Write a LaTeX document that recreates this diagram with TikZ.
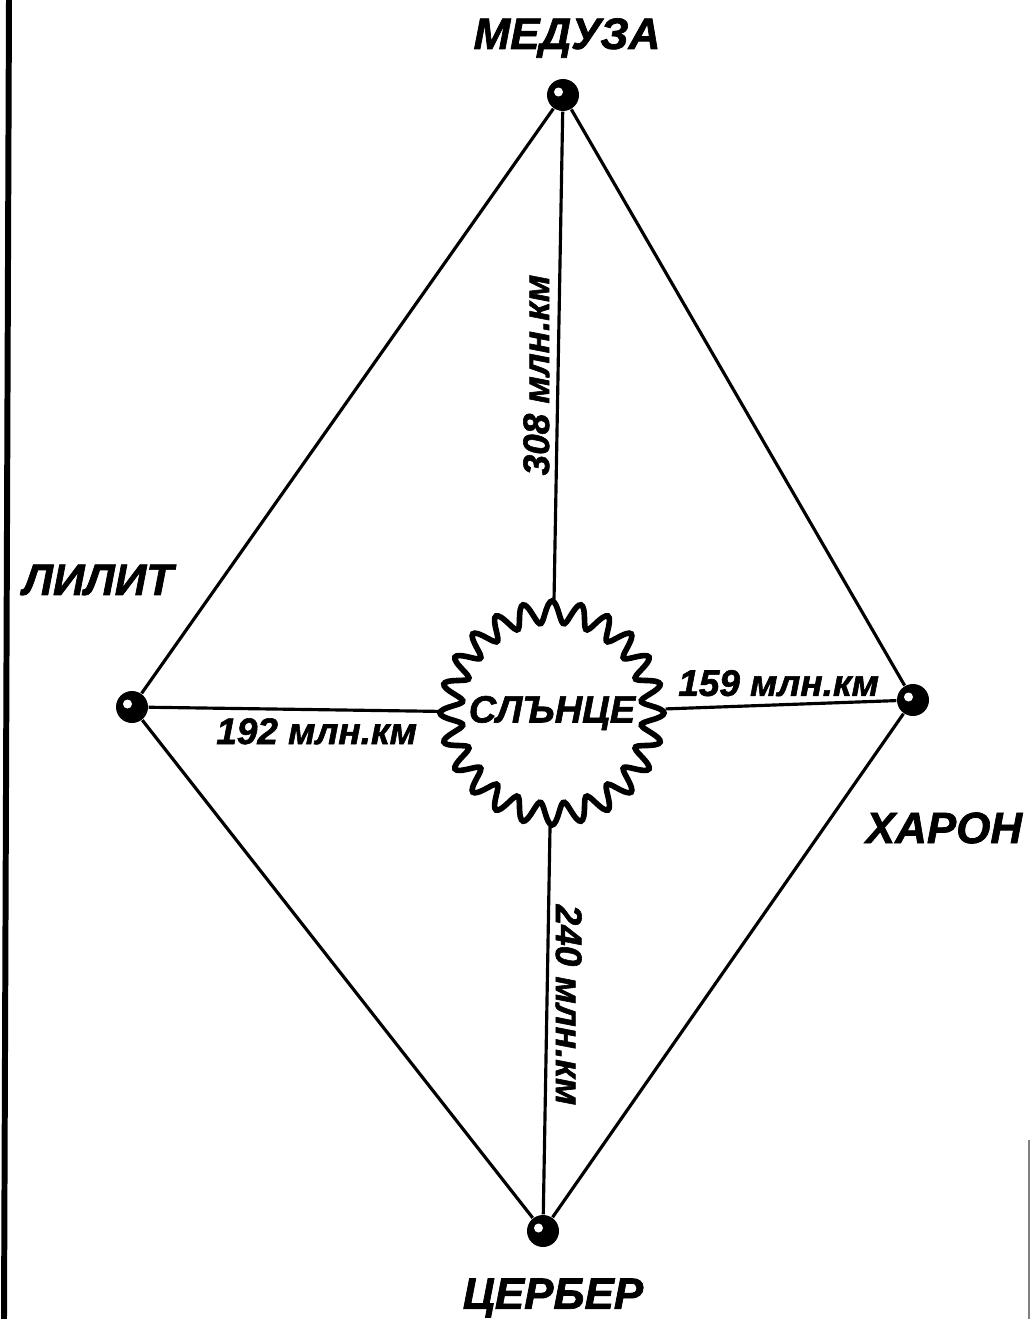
\documentclass[tikz,border=0pt]{standalone}
\usepackage{fontspec}
\setmainfont{Liberation Sans}[BoldItalicFeatures={FakeBold=1.6}]
\usetikzlibrary{positioning, calc}

\begin{document}
\begin{tikzpicture}[
    planet/.style={circle, fill=black, inner sep=0pt, minimum size=0.32cm,
      path picture={\fill[white] ([shift={(-0.045,0.03)}]path picture bounding box.center) circle (0.045);}},
    orbit/.style={line width=0.9pt},
    planetname/.style={font=\fontsize{12.5}{15}\selectfont\bfseries\itshape},
    dist/.style={font=\fontsize{10.5}{12}\selectfont\bfseries\itshape, inner sep=2pt}
]
\useasboundingbox (0,0) rectangle (10.31,-13.19);
% frame edges of the scan
\draw[line width=1.7pt] (0.09,0) -- (0.04,-13.19);
\draw[line width=0.4pt, black!50] (10.29,-11.40) -- (10.29,-13.19);

% sun
\node[circle, inner sep=0pt, minimum size=2.26cm,
      font=\fontsize{10.8}{13}\selectfont\bfseries\itshape] (sun) at (5.52,-7.13) {СЛЪНЦЕ};
\draw[line width=1.6pt, shift={(sun.center)}]
  plot[domain=0:360, samples=361, smooth cycle] (\x:{1.01+0.11*cos(24*\x)});

% planets
\node[planet] (medusa) at (5.63,-0.95) {};
\node[planet] (lilit) at (1.32,-7.07) {};
\node[planet] (haron) at (9.13,-7.00) {};
\node[planet] (cerber) at (5.43,-12.31) {};

\node[planetname] (medusaname) at (5.67,-0.38) {МЕДУЗА};
\node[planetname] (lilitname) at (0.98,-5.80) {ЛИЛИТ};
\node[planetname] (haronname) at (9.44,-8.28) {ХАРОН};
\node[planetname] (cerbername) at (5.53,-12.98) {ЦЕРБЕР};

% rhombus
\draw[orbit] (medusa) -- (lilit);
\draw[orbit] (medusa) -- (haron);
\draw[orbit] (lilit) -- (cerber);
\draw[orbit] (haron) -- (cerber);

% distances to the sun
\draw[orbit] (medusa) -- node[dist, rotate=90, above, pos=0.54] {308 млн.км} (sun);
\draw[orbit] (lilit) -- node[dist, below, pos=0.58] {192 млн.км} (sun);
\draw[orbit] (sun) -- node[dist, above, pos=0.49] {159 млн.км} (haron);
\draw[orbit] (sun) -- node[dist, rotate=-90, above, pos=0.46] {240 млн.км} (cerber);
\end{tikzpicture}
\end{document}
